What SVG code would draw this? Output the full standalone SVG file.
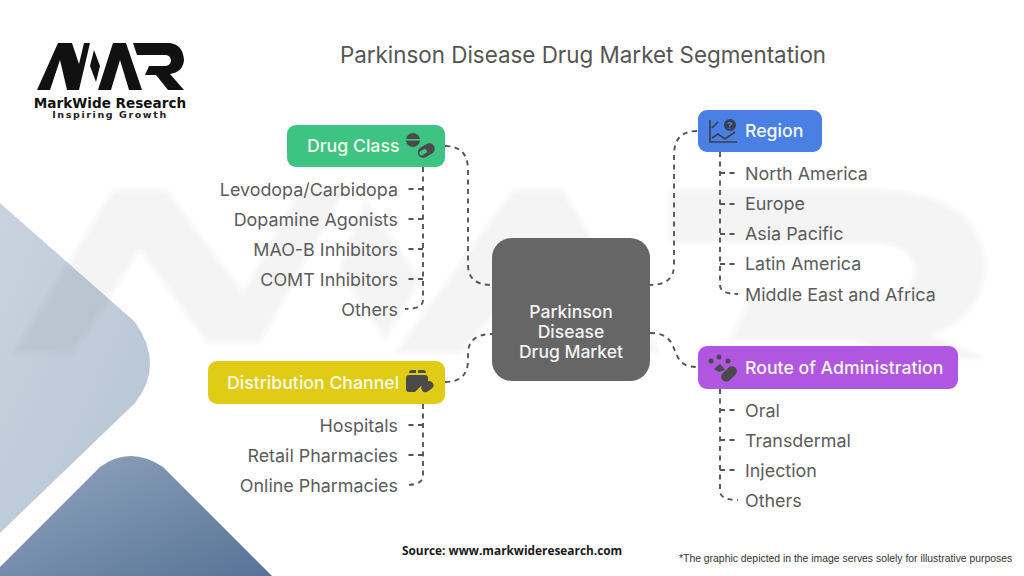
<svg xmlns="http://www.w3.org/2000/svg" width="1024" height="576" viewBox="0 0 1024 576">
<style>
text{font-family:Inter,"Liberation Sans",sans-serif}
.lab{font-size:17.9px;fill:#5c5c5c}
.r{text-anchor:end}
.head{font-size:17.7px;font-weight:500;fill:#f4f8ee}
.c{fill:none;stroke:#555;stroke-width:1.9;stroke-dasharray:5 4.5}
.ic{fill:#4a4a4a}
.wm{fill:#555;opacity:.06}
.logo{fill:#111}
</style>
<defs>
<linearGradient id="gl" x1="0" y1="0" x2="1" y2="1"><stop offset="0" stop-color="#c9d3df"/><stop offset="1" stop-color="#b6c4d3"/></linearGradient>
<linearGradient id="gd" x1="0" y1="0" x2="1" y2="1"><stop offset="0" stop-color="#92a6bf"/><stop offset="1" stop-color="#577396"/></linearGradient>
<filter id="soft" x="-5%" y="-5%" width="110%" height="110%"><feGaussianBlur stdDeviation="2"/></filter>
</defs>
<rect width="1024" height="576" fill="#fff"/>
<g id="bg-shapes">
<path d="M0 203L135 322Q165 365 135 403L0 533Z" fill="url(#gl)"/>
<path d="M0 567L100 467Q130 445 163 467L272 576H0Z" fill="url(#gd)"/>
</g>
<g id="watermark" filter="url(#soft)">
<path class="wm" d="M13 353L113 190H167L243 293L300 190H345L260 343H207L140 250L73 353Z"/>
<path class="wm" d="M365 200L420 280L385 340L340 270Z"/>
<path class="wm" d="M395 353L513 190H563L660 353H595L538 265L460 353Z"/>
<path class="wm" d="M670 190H880Q985 195 985 270Q980 320 930 335L985 358H905L855 340H730L750 300H880Q915 295 915 268Q910 245 880 243H670Z"/>
</g>
<g id="logo">
<path class="logo" d="M37 90L58 43H72L79 64L84 43H90L79 90H67L60 60L50 90Z"/>
<path class="logo" d="M94 50L100 66L96 82L90 66Z"/>
<path class="logo" d="M98 90L113 43H126L142 90H129L120 60L111 90Z"/>
<path class="logo" d="M133 43H170Q183 45 184 60Q183 72 170 74L184 90H168L156 75H145L149 66H166Q171 65 171 60Q170 55 165 55H137Z"/>
<text x="110" y="107.500" text-anchor="middle" style="font-family:'DejaVu Sans',sans-serif;font-weight:700;font-size:13.6px;fill:#111">MarkWide Research</text>
<text x="110" y="117.500" text-anchor="middle" style="font-family:'DejaVu Sans',sans-serif;font-weight:700;font-size:9.5px;letter-spacing:1.6px;fill:#222">Inspiring Growth</text>
</g>
<text id="title" x="583" y="63" text-anchor="middle" style="font-size:22.4px;font-weight:400;fill:#555">Parkinson Disease Drug Market Segmentation</text>
<g id="connectors">
<path class="c" d="M445 146Q468 146 468 170V265Q468 285 492 285"/>
<path class="c" d="M697 131Q674 131 674 155V265Q674 285 650 285"/>
<path class="c" d="M650 333C685 333 665 367 697 367"/>
<path class="c" d="M445 382Q468 382 468 360V354Q468 334 492 334"/>
<path class="c" d="M423 167V300Q423 309 405 309"/>
<path class="c" d="M423 189H406M423 219H406M423 249H406M423 279H406"/>
<path class="c" d="M720 152V285Q720 294 738 294"/>
<path class="c" d="M720 173H738M720 204H738M720 234H738M720 264H738"/>
<path class="c" d="M720 389V491Q720 500 738 500"/>
<path class="c" d="M720 410H738M720 440H738M720 470H738"/>
<path class="c" d="M423 404V476Q423 485 405 485"/>
<path class="c" d="M423 425H406M423 455H406"/>
</g>
<g id="center"><rect x="492" y="238" width="158" height="143" rx="20" fill="#666"/>
<text text-anchor="middle" style="font-size:17.5px;font-weight:500;fill:#f2f2f2"><tspan x="571" y="318">Parkinson</tspan><tspan x="571" y="338">Disease</tspan><tspan x="571" y="358">Drug Market</tspan></text></g>
<g id="drug-class"><rect x="287" y="125" width="158" height="42" rx="9" fill="#3dc482"/>
<text class="head" x="307" y="152">Drug Class</text>
<g class="ic"><circle cx="413" cy="140" r="7"/><rect x="405" y="139" width="16" height="1.6" fill="#3dc482"/><rect x="417" y="145" width="18" height="11" rx="5.500" transform="rotate(-30 426 150)"/><rect x="419" y="150" width="8" height="4.500" rx="2" fill="#3dc482" transform="rotate(-30 423 152)"/></g></g>
<g id="levodopa"><text class="lab r" x="398" y="195.500">Levodopa/Carbidopa</text></g>
<g id="dopamine"><text class="lab r" x="398" y="225.500">Dopamine Agonists</text></g>
<g id="maob"><text class="lab r" x="398" y="255.500">MAO-B Inhibitors</text></g>
<g id="comt"><text class="lab r" x="398" y="285.500">COMT Inhibitors</text></g>
<g id="others-1"><text class="lab r" x="398" y="315.500">Others</text></g>
<g id="distribution"><rect x="208" y="361" width="237" height="43" rx="9" fill="#e0cc14"/>
<text class="head" x="227" y="388.500">Distribution Channel</text>
<g class="ic"><path d="M406 378Q406 375 409 375H425Q428 375 428 378V386H421L415 392H409Q406 392 406 389Z"/><path d="M409 373Q409 370 412 370H416V373ZM418 370H423Q426 370 426 373H418Z"/><rect x="421" y="383" width="13" height="8" rx="4" transform="rotate(-35 427 387)"/></g></g>
<g id="hospitals"><text class="lab r" x="398" y="431.500">Hospitals</text></g>
<g id="retail"><text class="lab r" x="398" y="461.500">Retail Pharmacies</text></g>
<g id="online"><text class="lab r" x="398" y="491.500">Online Pharmacies</text></g>
<g id="region"><rect x="698" y="110" width="124" height="42" rx="9" fill="#4a80e4"/>
<text class="head" x="745" y="137">Region</text>
<g fill="none" stroke="#3a3f4d" stroke-width="1.700"><path d="M710 120V142H737"/><path d="M712 138L718 134L725 139L735 132"/><path d="M712 128L718 122"/></g><circle cx="730" cy="125" r="6" fill="#3a3f4d"/><text x="730" y="128.500" text-anchor="middle" style="font-size:9.500px;font-weight:700;fill:#4a80e4">?</text></g>
<g id="north-america"><text class="lab" x="745" y="180">North America</text></g>
<g id="europe"><text class="lab" x="745" y="210">Europe</text></g>
<g id="asia"><text class="lab" x="745" y="240">Asia Pacific</text></g>
<g id="latin"><text class="lab" x="745" y="270">Latin America</text></g>
<g id="mea"><text class="lab" x="745" y="300.500">Middle East and Africa</text></g>
<g id="route"><rect x="698" y="346" width="260" height="43" rx="9" fill="#b056e0"/>
<text class="head" x="745" y="373.500">Route of Administration</text>
<g class="ic"><circle cx="711" cy="361" r="2.500"/><circle cx="719" cy="357" r="2.500"/><circle cx="728" cy="361" r="2.500"/><path d="M714 369L720 364L725 370L719 372Z"/><rect x="720" y="369" width="18" height="10" rx="5" transform="rotate(-45 729 374)"/></g></g>
<g id="oral"><text class="lab" x="745" y="416.500">Oral</text></g>
<g id="transdermal"><text class="lab" x="745" y="446.500">Transdermal</text></g>
<g id="injection"><text class="lab" x="745" y="477">Injection</text></g>
<g id="others-2"><text class="lab" x="745" y="507">Others</text></g>
<text x="402" y="555" style="font-family:'Open Sans','Liberation Sans',sans-serif;font-size:11.850px;font-weight:700;fill:#1a1a1a">Source: www.markwideresearch.com</text>
<text x="679" y="562" style="font-family:'Liberation Sans',sans-serif;font-size:10.400px;fill:#333">*The graphic depicted in the image serves solely for illustrative purposes</text>
</svg>
